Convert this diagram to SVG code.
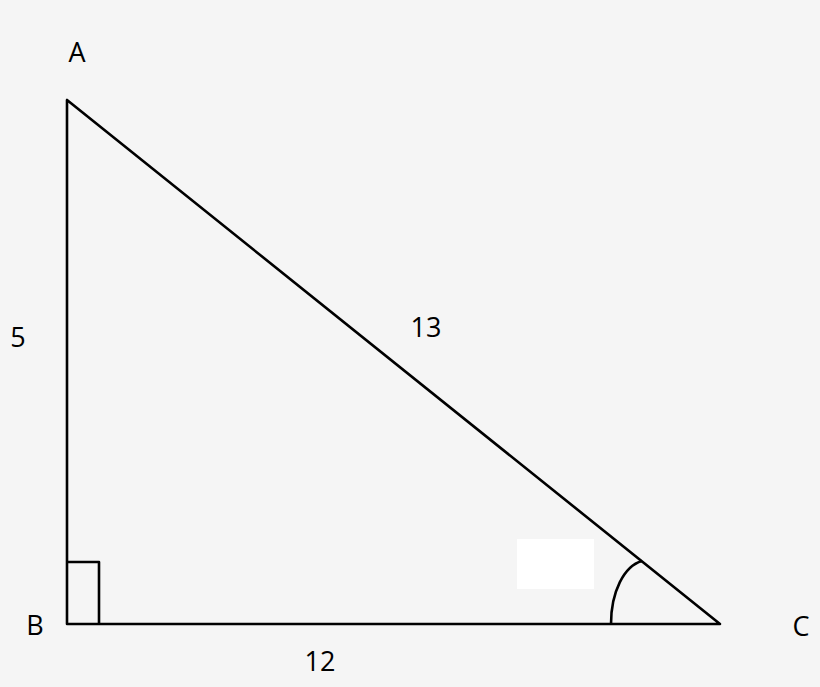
<svg xmlns="http://www.w3.org/2000/svg" width="820" height="687" viewBox="0 0 820 687">
<style>
.ln{fill:none;stroke:#000;stroke-width:2.6;stroke-linejoin:round}
.lb{font-family:"Open Sans","Liberation Sans",sans-serif;font-size:27px;fill:#000;text-anchor:middle}
</style>
<rect width="820" height="687" fill="#f5f5f5"/>
<g id="triangle">
<path class="ln" d="M67,100 L67,624 L720,624 Z"/>
</g>
<g id="right-angle">
<path class="ln" d="M67,562 L99,562 L99,624"/>
</g>
<g id="angle-c">
<path class="ln" d="M611,624 C611,592 624,566 642,561"/>
</g>
<g id="blank">
<rect x="517" y="539" width="77" height="50" fill="#ffffff"/>
</g>
<g id="labels">
<text class="lb" x="77" y="62">A</text>
<text class="lb" x="35" y="635">B</text>
<text class="lb" x="801" y="636">C</text>
<text class="lb" x="18" y="347">5</text>
<text class="lb" x="426" y="337">13</text>
<text class="lb" x="320" y="671">12</text>
</g>
<g id="connectors"></g>
</svg>
